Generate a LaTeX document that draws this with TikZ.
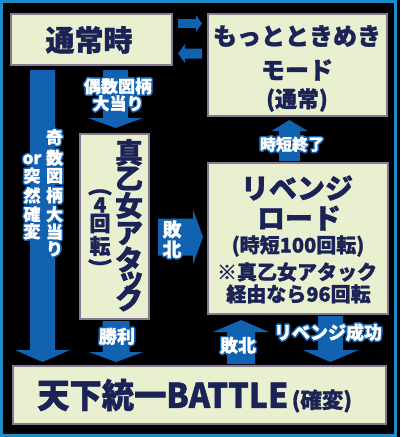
\documentclass[tikz,border=0pt]{standalone}
\usepackage{fontspec}
\setmainfont{Noto Sans CJK JP}[BoldFeatures={FakeBold=1.2}]
\usepackage{contour}
\contourlength{1.4pt}
\definecolor{frameblue}{RGB}{30,140,200}
\definecolor{boxfill}{RGB}{232,240,208}
\definecolor{boxedge}{RGB}{133,122,146}
\definecolor{navy}{RGB}{27,34,85}
\definecolor{arrowblue}{RGB}{18,98,178}
\newcommand\fs[1]{\fontsize{#1}{#1}\selectfont\bfseries}
\newcommand\lb[1]{\contour{arrowblue}{#1}}
\tikzset{
  box/.style 2 args={draw=boxedge, line width=2pt, fill=boxfill, inner sep=0pt, minimum width=#1, minimum height=#2},
  jt/.style={text=navy, inner sep=0pt},
  lbl/.style={text=white, inner sep=0pt},
  pics/barrow/.style args={#1/#2/#3/#4}{code={
    \fill[arrowblue] (0,-#2) -- ({#1-#4},-#2) -- ({#1-#4},-#3) -- (#1,0) -- ({#1-#4},#3) -- ({#1-#4},#2) -- (0,#2) -- cycle;}}
}
\begin{document}
\begin{tikzpicture}[x=1pt,y=-1pt]
\fill[black] (0,0) rectangle (400,437);
\useasboundingbox (0,0) rectangle (400,437);
\draw[frameblue, line width=2.5pt] (1.5,1.5) rectangle (395.5,435.5);
% boxes
\node[box={161}{51}] (normal) at (91.5,39.5) {};
\node[box={179}{102}] (motto) at (297.5,65) {};
\node[box={69}{185}] (otome) at (114.5,226.5) {};
\node[box={180}{151}] (revenge) at (298,238.5) {};
\node[box={373}{58}] (battle) at (199.5,395) {};
% arrows
\pic at (178,23.5) {barrow=24/4.5/8.5/6};
\pic[rotate=180] at (202,53.5) {barrow=24/5/9.5/7};
\pic[rotate=-90] at (42.5,70) {barrow=292/12.5/27.5/12};
\pic[rotate=-90] at (115.5,70) {barrow=58/12.5/27.5/10};
\pic at (158,237) {barrow=45/18.5/27.5/10};
\pic[rotate=90] at (289.5,161) {barrow=41/10.5/18/11};
\pic[rotate=-90] at (116,321) {barrow=41/13.5/27.5/10};
\pic[rotate=90] at (241,364) {barrow=44/14/28/12};
\pic[rotate=-90] at (330.5,316) {barrow=46/12.5/28/12};
% box texts
\node[jt, font=\fs{29}] (t1) at (89,40) {通常時};
\node[jt, font=\fs{24}] (t2) at (297,36) {もっとときめき};
\node[jt, font=\fs{24}] (t3) at (297,70) {モード};
\node[jt, font=\fs{22}] (t4) at (297,100) {(通常)};
\node[jt, font=\fs{28}] (o1) at (129,152.5) {真};
\node[jt, font=\fs{28}] (o2) at (129,178.5) {乙};
\node[jt, font=\fs{28}] (o3) at (129,205.5) {女};
\node[jt, font=\fs{28}] (o4) at (129,233.5) {ア};
\node[jt, font=\fs{28}] (o5) at (129,259.5) {タ};
\node[jt, font=\fs{28}] (o6) at (131,281.5) {ッ};
\node[jt, font=\fs{28}] (o7) at (129,298.5) {ク};
\node[jt, font=\fs{22}, rotate=-90] (p1) at (100,192) {(};
\node[jt, font=\fs{21}] (p2) at (100,205) {4};
\node[jt, font=\fs{21}] (p3) at (100,223.5) {回};
\node[jt, font=\fs{21}] (p4) at (100,246) {転};
\node[jt, font=\fs{22}, rotate=-90] (p5) at (100,262.5) {)};
\node[jt, font=\fs{28}] (r1) at (297,188) {リベンジ};
\node[jt, font=\fs{28}] (r2) at (299,218) {ロード};
\node[jt, font=\fs{20}] (r3) at (298,246) {(時短100回転)};
\node[jt, font=\fs{20}] (r4) at (297,272) {※真乙女アタック};
\node[jt, font=\fs{20}] (r5) at (298.5,294) {経由なら96回転};
\node[jt, font=\fs{34}, anchor=west] (b1) at (37,395) {\scalebox{0.95}[1]{天下統一BATTLE}};
\node[jt, font=\fs{21.5}, anchor=west, xshift=3pt] (b2) at (b1.east |- 0,401) {(確変)};
% arrow labels
\node[lbl, font=\fs{17}] (l1) at (118,87) {\lb{偶数図柄}};
\node[lbl, font=\fs{17}] (l2) at (118,104) {\lb{大当り}};
\node[lbl, font=\fs{17}] (k1) at (54.5,138) {\lb{奇}};
\node[lbl, font=\fs{17}] (k2) at (54.5,158.5) {\lb{数}};
\node[lbl, font=\fs{17}] (k3) at (54.5,176.5) {\lb{図}};
\node[lbl, font=\fs{17}] (k4) at (54.5,196) {\lb{柄}};
\node[lbl, font=\fs{17}] (k5) at (54.5,215) {\lb{大}};
\node[lbl, font=\fs{17}] (k6) at (54.5,232.5) {\lb{当}};
\node[lbl, font=\fs{17}] (k7) at (54.5,249.5) {\lb{り}};
\node[lbl, font=\fs{17}] (m1) at (32,160) {\lb{or}};
\node[lbl, font=\fs{17}] (m2) at (32,176.5) {\lb{突}};
\node[lbl, font=\fs{17}] (m3) at (32,196) {\lb{然}};
\node[lbl, font=\fs{17}] (m4) at (32,215) {\lb{確}};
\node[lbl, font=\fs{17}] (m5) at (32,232) {\lb{変}};
\node[lbl, font=\fs{19}] (h1) at (172,230) {\lb{敗}};
\node[lbl, font=\fs{19}] (h2) at (172,250) {\lb{北}};
\node[lbl, font=\fs{16}] (j1) at (292,145) {\lb{時短終了}};
\node[lbl, font=\fs{18}] (s1) at (117,337) {\lb{勝利}};
\node[lbl, font=\fs{18}] (s2) at (238,346) {\lb{敗北}};
\node[lbl, font=\fs{18}] (s3) at (328,333) {\lb{リベンジ成功}};
\end{tikzpicture}
\end{document}
